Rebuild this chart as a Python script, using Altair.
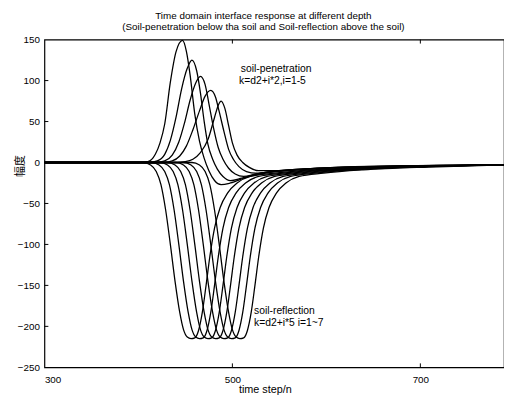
import altair as alt
import pandas as pd

# ---- soil-penetration curves (i = 1..5) ----
p1_x = [300, 400, 410, 418, 423, 428, 434, 440, 447, 451, 455, 460, 465, 470, 475, 481, 488, 498, 515, 540, 580, 650, 789]
p1_y = [0, 0, 1, 10, 24, 47, 98, 135, 149, 136, 107, 59, 26, 5, -10, -22, -27, -25, -18, -12, -8, -5, -3]
p2_x = [300, 410, 420, 428, 434, 440, 446, 452, 457, 462, 466, 470, 474, 479, 484, 490, 498, 510, 530, 560, 620, 700, 789]
p2_y = [0, 0, 2, 10, 27, 55, 90, 115, 125, 112, 85, 50, 22, 4, -8, -17, -22, -19, -13, -9, -6, -4, -3]
p3_x = [300, 418, 428, 436, 443, 449, 455, 461, 466, 471, 475, 480, 485, 490, 496, 503, 512, 525, 550, 590, 660, 789]
p3_y = [0, 0, 2, 9, 25, 48, 76, 97, 105, 95, 72, 42, 18, 4, -7, -14, -17, -14, -10, -7, -5, -3]
p4_x = [300, 426, 436, 444, 451, 458, 465, 471, 477, 482, 486, 491, 496, 501, 507, 515, 526, 545, 580, 640, 789]
p4_y = [0, 0, 2, 8, 20, 40, 63, 81, 88, 80, 62, 38, 16, 4, -5, -11, -13, -11, -8, -5, -3]
p5_x = [300, 440, 450, 458, 466, 474, 481, 485, 488, 492, 496, 500, 505, 511, 518, 528, 545, 575, 630, 789]
p5_y = [0, 0, 1, 4, 12, 28, 55, 70, 75, 66, 45, 24, 9, 0, -6, -10, -10, -8, -5, -3]

# ---- soil-reflection curves (i = 1..7) ----
r_y = [0, 0, -3, -11, -27, -58, -100, -145, -183, -204, -213, -215,
       -214, -205, -183, -150, -115, -80, -55, -37, -25, -17, -13, -9, -5.5, -3]
r1_x = [300, 405, 413, 419, 424, 429, 434, 439, 444, 448, 452, 456, 460, 464, 468, 472, 476, 481, 487, 495, 505, 519, 545, 587, 657, 789]
r2_x = [300, 414, 422, 428, 433, 438, 443, 448, 453, 457, 461, 465, 469, 473, 477, 481, 485, 490, 496, 504, 514, 528, 554, 596, 666, 789]
r3_x = [300, 423, 431, 437, 442, 447, 452, 457, 462, 466, 470, 474, 478, 482, 486, 490, 494, 499, 505, 513, 523, 537, 563, 605, 675, 789]
r4_x = [300, 431, 439, 445, 450, 455, 460, 465, 470, 474, 478, 482, 486, 490, 494, 498, 502, 507, 513, 521, 531, 545, 571, 613, 683, 789]
r5_x = [300, 440, 448, 454, 459, 464, 469, 474, 479, 483, 487, 491, 495, 499, 503, 507, 511, 516, 522, 530, 540, 554, 580, 622, 692, 789]
r6_x = [300, 448, 456, 462, 467, 472, 477, 482, 487, 491, 495, 499, 503, 507, 511, 515, 519, 524, 530, 538, 548, 562, 588, 630, 700, 789]
r7_x = [300, 457, 465, 471, 476, 481, 486, 491, 496, 500, 504, 508, 512, 516, 520, 524, 528, 533, 539, 547, 557, 571, 597, 639, 709, 789]

x_ticks = [300, 500, 700]
y_ticks = [-250, -200, -150, -100, -50, 0, 50, 100, 150]
inner_y_ticks = [-200, -150, -100, -50, 0, 50, 100]
inner_x_ticks = [500, 700]

title_lines = ["Time domain interface response at different depth",
               "(Soil-penetration below tha soil and Soil-reflection above the soil)"]
notes = [
    {"x": 509, "y": 114, "t": "soil-penetration"},
    {"x": 507, "y": 100, "t": "k=d2+i*2,i=1-5"},
    {"x": 523, "y": -181, "t": "soil-reflection"},
    {"x": 523, "y": -196, "t": "k=d2+i*5 i=1~7"},
]

rows = []
for name, xs_, ys_ in [("p1", p1_x, p1_y), ("p2", p2_x, p2_y), ("p3", p3_x, p3_y),
                       ("p4", p4_x, p4_y), ("p5", p5_x, p5_y),
                       ("r1", r1_x, r_y), ("r2", r2_x, r_y), ("r3", r3_x, r_y),
                       ("r4", r4_x, r_y), ("r5", r5_x, r_y), ("r6", r6_x, r_y),
                       ("r7", r7_x, r_y)]:
    for a, b in zip(xs_, ys_):
        rows.append({"curve": name, "t": a, "v": b})
df = pd.DataFrame(rows)

FONT = "Liberation Sans"
xs = alt.Scale(domain=[300, 789], nice=False, zero=False)
ys = alt.Scale(domain=[-250, 150], nice=False, zero=False)

lines = alt.Chart(df).mark_line(color="black", strokeWidth=1.3, interpolate="monotone", clip=True).encode(
    x=alt.X("t:Q", scale=xs, axis=alt.Axis(values=x_ticks, tickSize=0, domain=False, grid=False,
                                            labelFont=FONT, labelFontSize=10, labelColor="black",
                                            labelPadding=7, title="time step/n", titleFont=FONT,
                                            titleFontSize=11, titleFontWeight="normal", titleColor="black",
                                            titleX=224, titleY=17, titleAlign="center")),
    y=alt.Y("v:Q", scale=ys, axis=alt.Axis(values=y_ticks, tickSize=0, domain=False, grid=False,
                                            labelFont=FONT, labelFontSize=10, labelColor="black",
                                            labelPadding=5, title="幅度", titleFont="Noto Sans CJK SC",
                                            titleFontSize=11, titleFontWeight="normal", titleColor="black",
                                            titleX=-24, titleY=128, titleAlign="center",
                                            titleBaseline="middle")),
    detail="curve:N",
)

ytk = alt.Chart(pd.DataFrame({"v": inner_y_ticks})).mark_rule(color="black", strokeWidth=1).encode(
    y=alt.Y("v:Q", scale=ys), x=alt.value(0), x2=alt.value(4))
xtk_b = alt.Chart(pd.DataFrame({"t": inner_x_ticks})).mark_rule(color="black", strokeWidth=1).encode(
    x=alt.X("t:Q", scale=xs), y=alt.value(329), y2=alt.value(333))
xtk_t = alt.Chart(pd.DataFrame({"t": inner_x_ticks})).mark_rule(color="black", strokeWidth=1).encode(
    x=alt.X("t:Q", scale=xs), y=alt.value(0), y2=alt.value(4))

txt = alt.Chart(pd.DataFrame(notes)).mark_text(align="left", baseline="middle", font=FONT,
                                                fontSize=10.5, color="black").encode(
    x=alt.X("x:Q", scale=xs), y=alt.Y("y:Q", scale=ys), text="t:N")

chart = alt.layer(lines, ytk, xtk_b, xtk_t, txt).properties(
    width=467, height=333,
    title=alt.TitleParams(text=title_lines, font=FONT, fontSize=10, fontWeight="normal",
                          color="black", offset=3, dx=-11, lineHeight=11),
    padding={"left": 37, "top": 29, "right": 0, "bottom": 25},
    autosize=alt.AutoSizeParams(type="none"),
    background="white",
).configure_view(stroke="black", strokeWidth=1.2)

chart.save("out.html", embed_options={"renderer": "svg", "actions": False})
